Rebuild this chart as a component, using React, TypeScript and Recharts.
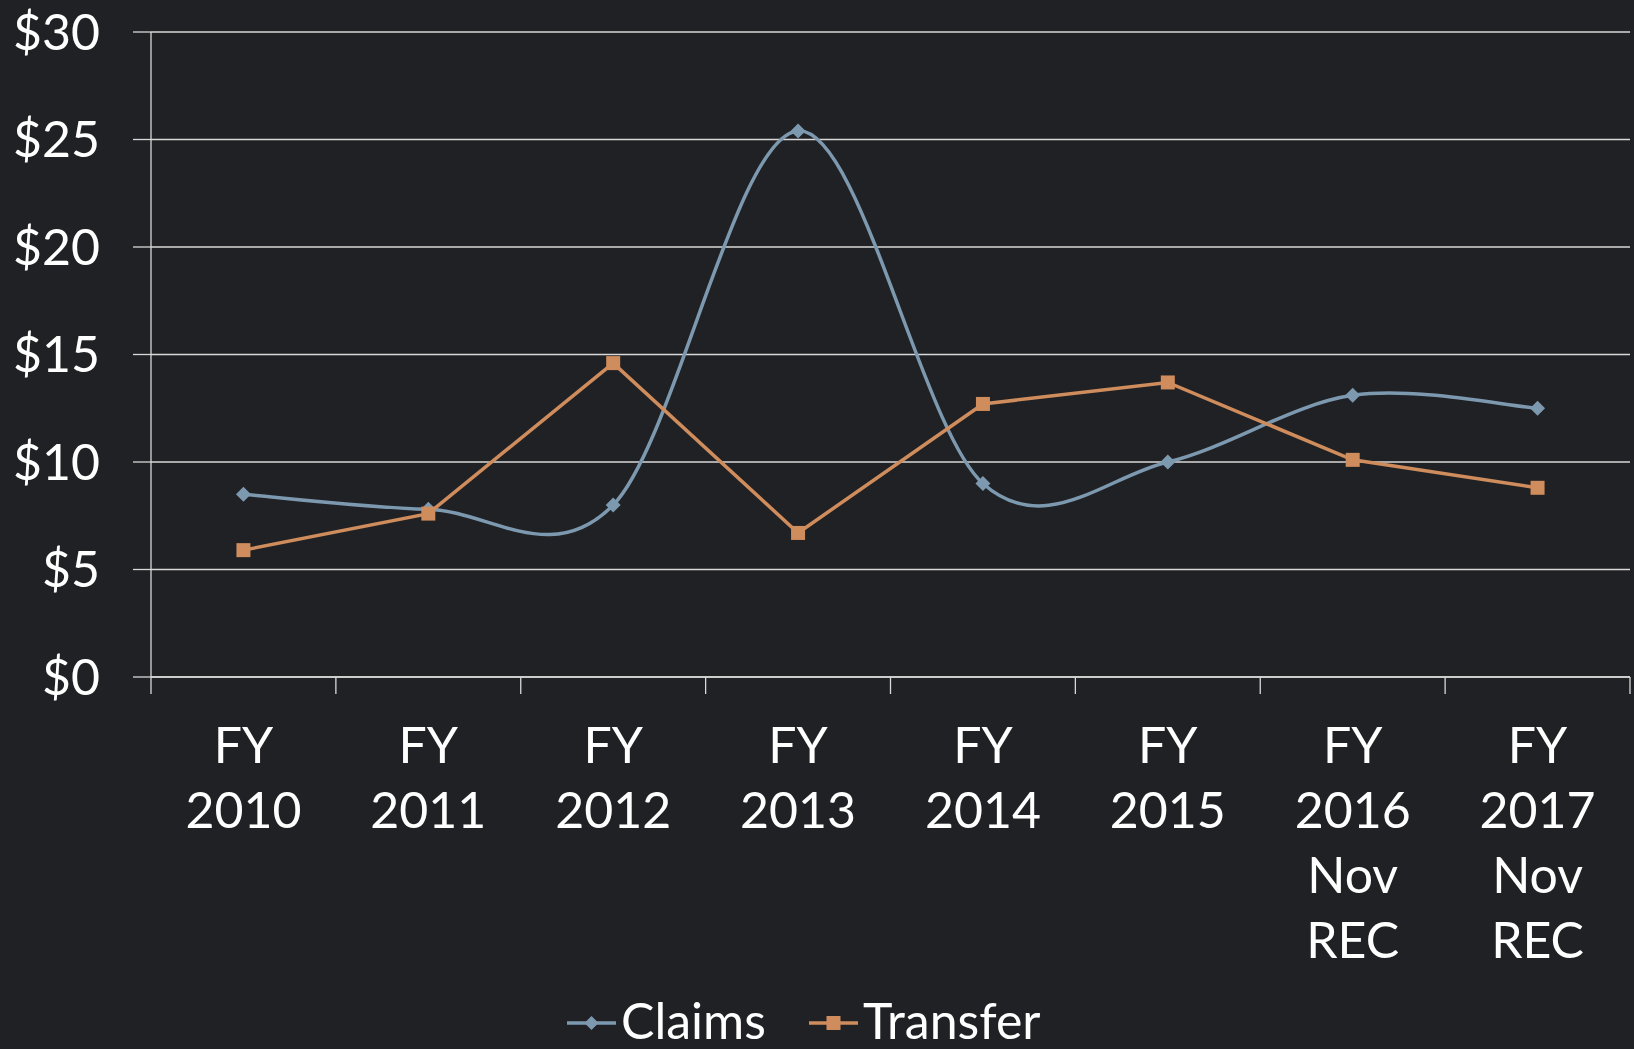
import { LineChart, Line, XAxis, YAxis, CartesianGrid, Legend } from "recharts";

const categories = [
  "FY 2010",
  "FY 2011",
  "FY 2012",
  "FY 2013",
  "FY 2014",
  "FY 2015",
  "FY 2016 Nov REC",
  "FY 2017 Nov REC",
];
const claims = [8.5, 7.8, 8.0, 25.4, 9.0, 10.0, 13.1, 12.5];
const transfer = [5.9, 7.6, 14.6, 6.7, 12.7, 13.7, 10.1, 8.8];
const yTicks = [0, 5, 10, 15, 20, 25, 30];

const BG = "#202124";
const GRID = "#d9d9d9";
const CLAIMS = "#7d99b0";
const TRANSFER = "#cf8c5c";
const FONT = "Lato, 'Open Sans', sans-serif";

document.body.style.margin = "0";

// points sit in the middle of each category, ticks at the boundaries
const data = categories.map((name, i) => ({
  pos: i + 0.5,
  name,
  claims: claims[i],
  transfer: transfer[i],
}));
const xTicks = categories.flatMap((_, i) => [i, i + 0.5]).concat(categories.length);

/** Excel-style smoothed line (Catmull-Rom through every point) */
function excelSmooth(context: any) {
  let pts: number[][] = [];
  return {
    areaStart() {},
    areaEnd() {},
    lineStart() {
      pts = [];
    },
    point(x: number, y: number) {
      pts.push([+x, +y]);
    },
    lineEnd() {
      if (!pts.length) return;
      context.moveTo(pts[0][0], pts[0][1]);
      for (let i = 0; i < pts.length - 1; i++) {
        const p0 = pts[Math.max(i - 1, 0)];
        const p1 = pts[i];
        const p2 = pts[i + 1];
        const p3 = pts[Math.min(i + 2, pts.length - 1)];
        context.bezierCurveTo(
          p1[0] + (p2[0] - p0[0]) / 6,
          p1[1] + (p2[1] - p0[1]) / 6,
          p2[0] - (p3[0] - p1[0]) / 6,
          p2[1] - (p3[1] - p1[1]) / 6,
          p2[0],
          p2[1]
        );
      }
    },
  };
}

// note: recharts passes its own `r` to dots, so the marker size uses another prop
function Diamond({ cx, cy, half = 7.5, color = CLAIMS }: any) {
  if (cx == null || cy == null) return null;
  return (
    <path
      d={`M${cx},${cy - half} L${cx + half},${cy} L${cx},${cy + half} L${cx - half},${cy} Z`}
      fill={color}
    />
  );
}

function Square({ cx, cy, half = 7, color = TRANSFER }: any) {
  if (cx == null || cy == null) return null;
  return <rect x={cx - half} y={cy - half} width={half * 2} height={half * 2} fill={color} />;
}

function XTick({ x, y, payload }: any) {
  const v = payload.value as number;
  if (Number.isInteger(v)) {
    return <line x1={x} y1={y} x2={x} y2={y + 17} stroke={GRID} strokeWidth={1.3} />;
  }
  const lines = categories[Math.floor(v)].split(" ");
  return (
    <text x={x} y={y + 86} textAnchor="middle" fill="#ffffff" fontSize={50} fontFamily={FONT}>
      {lines.map((l, i) => (
        <tspan key={i} x={x} dy={i === 0 ? 0 : 65}>
          {l}
        </tspan>
      ))}
    </text>
  );
}

function LegendContent() {
  const items = [
    { name: "Claims", color: CLAIMS, kind: "diamond" },
    { name: "Transfer", color: TRANSFER, kind: "square" },
  ];
  return (
    <svg width={600} height={66} style={{ display: "block" }}>
      {items.map((it, i) => {
        const x0 = i * 242;
        return (
          <g key={it.name}>
            <line x1={x0} y1={40} x2={x0 + 49} y2={40} stroke={it.color} strokeWidth={3.5} />
            {it.kind === "diamond" ? (
              <Diamond cx={x0 + 24.5} cy={40} half={7} color={it.color} />
            ) : (
              <Square cx={x0 + 24.5} cy={40} half={7} color={it.color} />
            )}
            <text x={x0 + 54} y={56} fill="#ffffff" fontSize={50} fontFamily={FONT}>
              {it.name}
            </text>
          </g>
        );
      })}
    </svg>
  );
}

export default function App() {
  return (
    <div style={{ width: 1634, height: 1049, background: BG, overflow: "hidden", position: "relative" }}>
      <LineChart
        width={1634}
        height={1049}
        data={data}
        margin={{ top: 32, right: 4, left: 0, bottom: 0 }}
      >
        <CartesianGrid vertical={false} stroke={GRID} strokeWidth={1.3} />
        <XAxis
          dataKey="pos"
          type="number"
          domain={[0, categories.length]}
          ticks={xTicks}
          interval={0}
          height={372}
          tickSize={0}
          tickMargin={0}
          tickLine={false}
          axisLine={{ stroke: GRID, strokeWidth: 1.3 }}
          tick={<XTick />}
        />
        <YAxis
          domain={[0, 30]}
          ticks={yTicks}
          width={151}
          tickSize={18}
          tickMargin={33}
          tickLine={{ stroke: GRID, strokeWidth: 1.3 }}
          axisLine={{ stroke: GRID, strokeWidth: 1.3 }}
          tickFormatter={(v) => `$${v}`}
          tick={{ fill: "#ffffff", fontSize: 50, fontFamily: FONT }}
        />
        <Legend
          layout="horizontal"
          verticalAlign="middle"
          align="center"
          wrapperStyle={{ top: 983, left: 567, width: 600 }}
          content={<LegendContent />}
        />
        <Line
          dataKey="claims"
          name="Claims"
          type={excelSmooth as any}
          stroke={CLAIMS}
          strokeWidth={3.5}
          dot={<Diamond />}
          activeDot={false}
          isAnimationActive={false}
        />
        <Line
          dataKey="transfer"
          name="Transfer"
          type="linear"
          stroke={TRANSFER}
          strokeWidth={3.5}
          dot={<Square />}
          activeDot={false}
          isAnimationActive={false}
        />
      </LineChart>
    </div>
  );
}
